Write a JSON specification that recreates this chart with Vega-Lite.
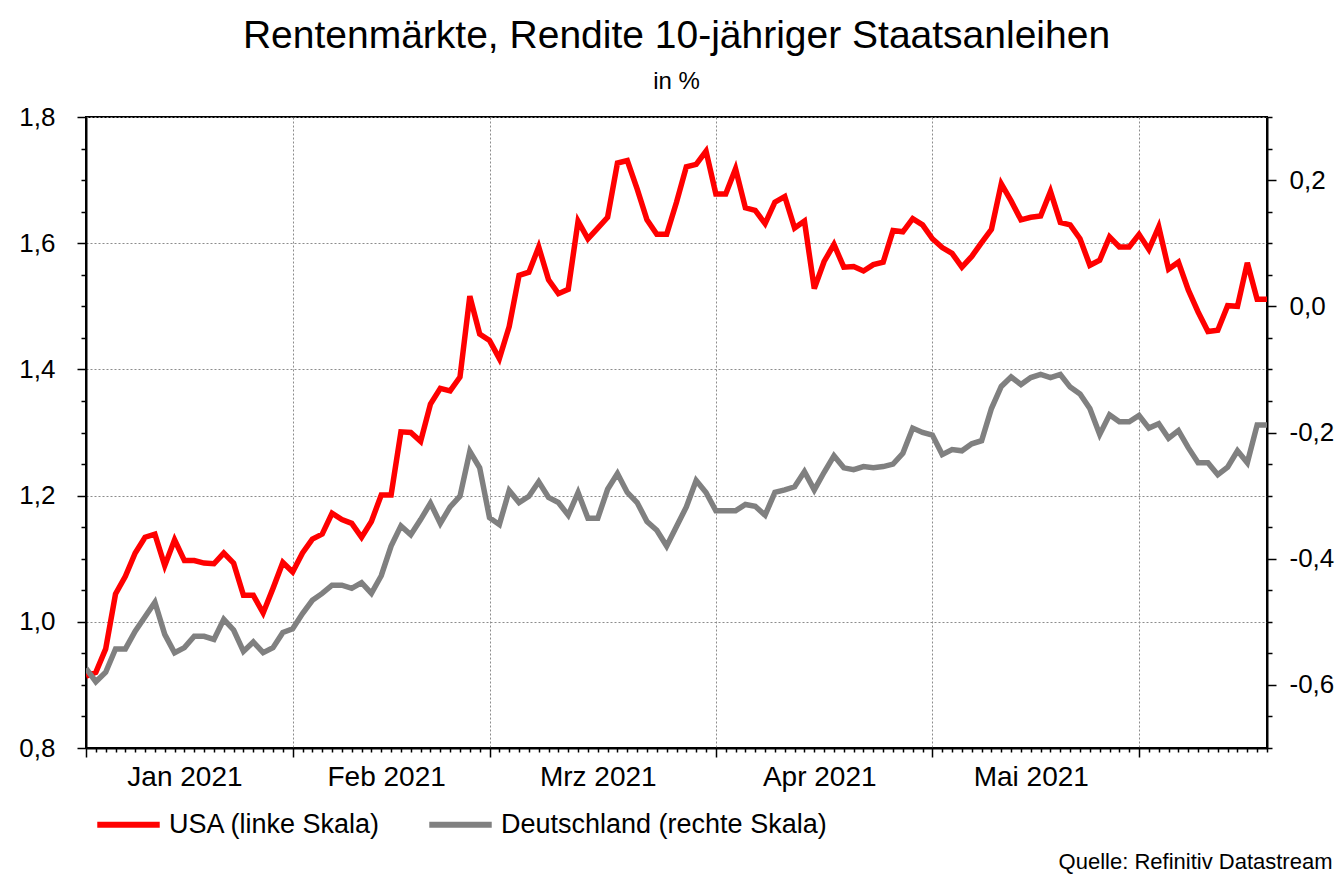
{
  "$schema": "https://vega.github.io/schema/vega-lite/v6.json",
  "width": 1181,
  "height": 631,
  "autosize": {"type": "none"},
  "padding": {"left": 86, "top": 117, "right": 68, "bottom": 131},
  "background": "white",
  "config": {
    "font": "Liberation Sans",
    "view": {"stroke": "black", "strokeWidth": 2},
    "axis": {
      "domainColor": "black",
      "domainWidth": 2,
      "tickColor": "black",
      "tickWidth": 1.5,
      "labelColor": "black",
      "labelFont": "Liberation Sans",
      "gridColor": "#8c8c8c",
      "gridDash": [2, 2],
      "gridWidth": 1
    }
  },
  "title": {
    "text": "Rentenmärkte, Rendite 10-jähriger Staatsanleihen",
    "subtitle": "in %",
    "anchor": "middle",
    "font": "Liberation Sans",
    "fontSize": 39,
    "fontWeight": "normal",
    "color": "black",
    "subtitleFont": "Liberation Sans",
    "subtitleFontSize": 24,
    "subtitleColor": "black",
    "subtitlePadding": 14,
    "offset": 10
  },
  "data": {
    "values": [
      {"d": 0, "usa": 0.914, "de": -0.574},
      {"d": 1, "usa": 0.920, "de": -0.595},
      {"d": 2, "usa": 0.957, "de": -0.580},
      {"d": 3, "usa": 1.044, "de": -0.543},
      {"d": 4, "usa": 1.072, "de": -0.543},
      {"d": 5, "usa": 1.109, "de": -0.515},
      {"d": 6, "usa": 1.134, "de": -0.492},
      {"d": 7, "usa": 1.139, "de": -0.469},
      {"d": 8, "usa": 1.089, "de": -0.520},
      {"d": 9, "usa": 1.130, "de": -0.549},
      {"d": 10, "usa": 1.097, "de": -0.541},
      {"d": 11, "usa": 1.097, "de": -0.523},
      {"d": 12, "usa": 1.093, "de": -0.523},
      {"d": 13, "usa": 1.092, "de": -0.528},
      {"d": 14, "usa": 1.109, "de": -0.496},
      {"d": 15, "usa": 1.093, "de": -0.513},
      {"d": 16, "usa": 1.042, "de": -0.547},
      {"d": 17, "usa": 1.042, "de": -0.532},
      {"d": 18, "usa": 1.014, "de": -0.549},
      {"d": 19, "usa": 1.053, "de": -0.541},
      {"d": 20, "usa": 1.094, "de": -0.517},
      {"d": 21, "usa": 1.079, "de": -0.511},
      {"d": 22, "usa": 1.109, "de": -0.487},
      {"d": 23, "usa": 1.131, "de": -0.466},
      {"d": 24, "usa": 1.139, "de": -0.455},
      {"d": 25, "usa": 1.172, "de": -0.442},
      {"d": 26, "usa": 1.162, "de": -0.442},
      {"d": 27, "usa": 1.156, "de": -0.447},
      {"d": 28, "usa": 1.134, "de": -0.438},
      {"d": 29, "usa": 1.159, "de": -0.455},
      {"d": 30, "usa": 1.201, "de": -0.427},
      {"d": 31, "usa": 1.201, "de": -0.380},
      {"d": 32, "usa": 1.301, "de": -0.348},
      {"d": 33, "usa": 1.300, "de": -0.362},
      {"d": 34, "usa": 1.286, "de": -0.338},
      {"d": 35, "usa": 1.345, "de": -0.312},
      {"d": 36, "usa": 1.370, "de": -0.344},
      {"d": 37, "usa": 1.366, "de": -0.318},
      {"d": 38, "usa": 1.388, "de": -0.301},
      {"d": 39, "usa": 1.516, "de": -0.230},
      {"d": 40, "usa": 1.456, "de": -0.256},
      {"d": 41, "usa": 1.446, "de": -0.335},
      {"d": 42, "usa": 1.417, "de": -0.346},
      {"d": 43, "usa": 1.468, "de": -0.292},
      {"d": 44, "usa": 1.549, "de": -0.311},
      {"d": 45, "usa": 1.554, "de": -0.301},
      {"d": 46, "usa": 1.594, "de": -0.278},
      {"d": 47, "usa": 1.542, "de": -0.303},
      {"d": 48, "usa": 1.520, "de": -0.311},
      {"d": 49, "usa": 1.527, "de": -0.331},
      {"d": 50, "usa": 1.635, "de": -0.295},
      {"d": 51, "usa": 1.607, "de": -0.336},
      {"d": 52, "usa": 1.624, "de": -0.336},
      {"d": 53, "usa": 1.641, "de": -0.290},
      {"d": 54, "usa": 1.727, "de": -0.265},
      {"d": 55, "usa": 1.731, "de": -0.295},
      {"d": 56, "usa": 1.686, "de": -0.311},
      {"d": 57, "usa": 1.637, "de": -0.341},
      {"d": 58, "usa": 1.614, "de": -0.355},
      {"d": 59, "usa": 1.614, "de": -0.380},
      {"d": 60, "usa": 1.665, "de": -0.349},
      {"d": 61, "usa": 1.721, "de": -0.318},
      {"d": 62, "usa": 1.725, "de": -0.276},
      {"d": 63, "usa": 1.746, "de": -0.295},
      {"d": 64, "usa": 1.678, "de": -0.324},
      {"d": 65, "usa": 1.678, "de": -0.324},
      {"d": 66, "usa": 1.718, "de": -0.324},
      {"d": 67, "usa": 1.656, "de": -0.314},
      {"d": 68, "usa": 1.652, "de": -0.317},
      {"d": 69, "usa": 1.631, "de": -0.331},
      {"d": 70, "usa": 1.665, "de": -0.295},
      {"d": 71, "usa": 1.674, "de": -0.291},
      {"d": 72, "usa": 1.624, "de": -0.286},
      {"d": 73, "usa": 1.635, "de": -0.262},
      {"d": 74, "usa": 1.528, "de": -0.291},
      {"d": 75, "usa": 1.571, "de": -0.263},
      {"d": 76, "usa": 1.598, "de": -0.237},
      {"d": 77, "usa": 1.562, "de": -0.256},
      {"d": 78, "usa": 1.563, "de": -0.259},
      {"d": 79, "usa": 1.556, "de": -0.254},
      {"d": 80, "usa": 1.566, "de": -0.256},
      {"d": 81, "usa": 1.570, "de": -0.254},
      {"d": 82, "usa": 1.620, "de": -0.250},
      {"d": 83, "usa": 1.618, "de": -0.233},
      {"d": 84, "usa": 1.639, "de": -0.193},
      {"d": 85, "usa": 1.629, "de": -0.200},
      {"d": 86, "usa": 1.607, "de": -0.204},
      {"d": 87, "usa": 1.593, "de": -0.235},
      {"d": 88, "usa": 1.584, "de": -0.227},
      {"d": 89, "usa": 1.562, "de": -0.229},
      {"d": 90, "usa": 1.579, "de": -0.218},
      {"d": 91, "usa": 1.601, "de": -0.213},
      {"d": 92, "usa": 1.622, "de": -0.162},
      {"d": 93, "usa": 1.694, "de": -0.127},
      {"d": 94, "usa": 1.667, "de": -0.112},
      {"d": 95, "usa": 1.637, "de": -0.124},
      {"d": 96, "usa": 1.641, "de": -0.113},
      {"d": 97, "usa": 1.643, "de": -0.108},
      {"d": 98, "usa": 1.682, "de": -0.113},
      {"d": 99, "usa": 1.633, "de": -0.108},
      {"d": 100, "usa": 1.629, "de": -0.128},
      {"d": 101, "usa": 1.607, "de": -0.139},
      {"d": 102, "usa": 1.565, "de": -0.162},
      {"d": 103, "usa": 1.573, "de": -0.203},
      {"d": 104, "usa": 1.610, "de": -0.172},
      {"d": 105, "usa": 1.594, "de": -0.183},
      {"d": 106, "usa": 1.594, "de": -0.183},
      {"d": 107, "usa": 1.614, "de": -0.173},
      {"d": 108, "usa": 1.590, "de": -0.193},
      {"d": 109, "usa": 1.626, "de": -0.186},
      {"d": 110, "usa": 1.559, "de": -0.209},
      {"d": 111, "usa": 1.570, "de": -0.197},
      {"d": 112, "usa": 1.526, "de": -0.224},
      {"d": 113, "usa": 1.491, "de": -0.248},
      {"d": 114, "usa": 1.460, "de": -0.248},
      {"d": 115, "usa": 1.462, "de": -0.267},
      {"d": 116, "usa": 1.501, "de": -0.255},
      {"d": 117, "usa": 1.500, "de": -0.229},
      {"d": 118, "usa": 1.569, "de": -0.248},
      {"d": 119, "usa": 1.511, "de": -0.188},
      {"d": 120, "usa": 1.511, "de": -0.188}
    ]
  },
  "encoding": {
    "x": {
      "field": "d",
      "type": "quantitative",
      "scale": {"domain": [0, 120], "nice": false, "zero": false},
      "axis": {
        "title": "Quelle: Refinitiv Datastream",
        "titleFont": "Liberation Sans",
        "titleFontSize": 22,
        "titleFontWeight": "normal",
        "titleColor": "black",
        "titleAnchor": "end",
        "titleAlign": "right",
        "titleBaseline": "alphabetic",
        "titleX": 1246,
        "titleY": 120,
        "values": [0,1,2,3,4,5,6,7,8,9,10,11,12,13,14,15,16,17,18,19,20,21,22,23,24,25,26,27,28,29,30,30.5,31,32,33,34,35,36,37,38,39,40,41,42,43,44,45,46,47,48,49,50,51,52,53,54,55,56,57,58,59,60,61,62,63,64,65,66,67,68,69,70,71,72,73,74,74.5,75,76,77,78,79,80,81,82,83,84,85,86,87,88,89,90,91,92,93,94,95,96,97,98,99,100,101,102,103,104,105,106,107,108,109,110,111,112,113,114,115,116,117,118,119,120],
        "labelExpr": "datum.value == 10 ? 'Jan 2021' : datum.value == 30.5 ? 'Feb 2021' : datum.value == 52 ? 'Mrz 2021' : datum.value == 74.5 ? 'Apr 2021' : datum.value == 96 ? 'Mai 2021' : ''",
        "labelOverlap": false,
        "labelFlush": false,
        "labelFontSize": 28,
        "labelPadding": 11,
        "tickSize": {"condition": {"test": "indexof([0,21,41,64,86,107], datum.value) >= 0", "value": 9}, "value": 4},
        "tickOpacity": {"condition": {"test": "datum.value != floor(datum.value)", "value": 0}, "value": 1},
        "gridOpacity": {"condition": {"test": "indexof([21,41,64,86,107], datum.value) >= 0", "value": 1}, "value": 0}
      }
    }
  },
  "layer": [
    {
      "mark": {"type": "line", "strokeWidth": 5.5, "clip": true},
      "encoding": {
        "y": {
          "field": "usa",
          "type": "quantitative",
          "scale": {"domain": [0.8, 1.8], "nice": false, "zero": false},
          "axis": {
            "orient": "left",
            "title": null,
            "values": [0.8,0.85,0.9,0.95,1,1.05,1.1,1.15,1.2,1.25,1.3,1.35,1.4,1.45,1.5,1.55,1.6,1.65,1.7,1.75,1.8],
            "labelExpr": "abs(datum.value*5 - round(datum.value*5)) < 0.01 ? replace(replace(format(datum.value, '.1f'), '.', ','), '\u2212', '-') : ''",
            "labelFontSize": 26,
            "labelPadding": 22,
            "labelOverlap": false,
            "labelFlush": false,
            "tickSize": {"condition": {"test": "abs(datum.value*5 - round(datum.value*5)) < 0.01", "value": 9}, "value": 5},
            "gridOpacity": {"condition": {"test": "abs(datum.value*5 - round(datum.value*5)) < 0.01", "value": 1}, "value": 0}
          }
        },
        "color": {
          "datum": "USA (linke Skala)",
          "type": "nominal",
          "scale": {"domain": ["USA (linke Skala)", "Deutschland (rechte Skala)"], "range": ["#ff0000", "#808080"]},
          "legend": {
            "orient": "none",
            "legendX": 8,
            "legendY": 673,
            "direction": "horizontal",
            "title": null,
            "symbolType": "stroke",
            "symbolSize": 3900,
            "symbolStrokeWidth": 6,
            "labelFont": "Liberation Sans",
            "labelFontSize": 27,
            "labelColor": "black",
            "labelLimit": 0,
            "labelOffset": 6,
            "columnPadding": 36,
            "padding": 0
          }
        }
      }
    },
    {
      "mark": {"type": "line", "strokeWidth": 5.5, "clip": true},
      "encoding": {
        "y": {
          "field": "de",
          "type": "quantitative",
          "scale": {"domain": [-0.7, 0.3], "nice": false, "zero": false},
          "axis": {
            "orient": "right",
            "title": null,
            "grid": false,
            "values": [-0.7,-0.65,-0.6,-0.55,-0.5,-0.45,-0.4,-0.35,-0.3,-0.25,-0.2,-0.15,-0.1,-0.05,0,0.05,0.1,0.15,0.2,0.25,0.3],
            "labelExpr": "abs(datum.value*5 - round(datum.value*5)) < 0.01 ? replace(replace(format(datum.value, '.1f'), '.', ','), '\u2212', '-') : ''",
            "labelFontSize": 26,
            "labelPadding": 13,
            "labelOverlap": false,
            "labelFlush": false,
            "tickSize": {"condition": {"test": "abs(datum.value*5 - round(datum.value*5)) < 0.01", "value": 9}, "value": 5}
          }
        },
        "color": {"datum": "Deutschland (rechte Skala)", "type": "nominal"}
      }
    }
  ],
  "resolve": {"scale": {"y": "independent"}}
}
